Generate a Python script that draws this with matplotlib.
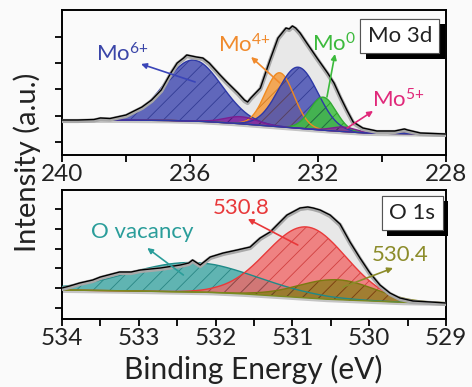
import numpy as np
import matplotlib
matplotlib.use("Agg")
import matplotlib.pyplot as plt
from matplotlib import patheffects as pe
from matplotlib.ticker import MultipleLocator, NullFormatter

plt.rcParams['font.family'] = ['Lato', 'DejaVu Sans']
plt.rcParams['mathtext.fontset'] = 'custom'
plt.rcParams['mathtext.rm'] = 'Lato'
plt.rcParams['mathtext.default'] = 'regular'
plt.rcParams['hatch.linewidth'] = 0.6

# ---------------- Mo 3d data ----------------
mo_E = [240.0, 239.5, 239.0, 238.8, 238.5, 238.0, 237.5, 237.2, 236.9, 236.6, 236.4,
        236.2, 236.1, 235.95, 235.8, 235.6, 235.4, 235.06, 234.85, 234.5, 234.3,
        234.2, 234.1, 233.8, 233.5, 233.25, 233.0, 232.9, 232.8, 232.7, 232.56,
        232.35, 232.03, 231.7, 231.5, 231.3, 231.1, 230.9, 230.6, 230.16, 229.6,
        229.3, 229.2, 228.8, 228.0]
mo_I = [35, 35, 35.5, 37, 36.5, 40, 48, 55, 65, 82, 92,
        97, 100, 99, 98, 97, 92, 80, 73, 62, 55,
        53, 57, 67, 95, 117, 127, 126, 129, 127, 122,
        112, 97, 82, 72, 58, 45, 33, 27, 24, 24,
        26, 25, 22, 21]
mo_bg_E = [240, 238, 236.5, 235.5, 234.5, 233.5, 232.5, 231.5, 230.5, 229.5, 228]
mo_bg_I = [35, 35, 34.5, 33.5, 31.5, 29, 26.5, 24, 22, 21.5, 21]

mo_names = ['Mo6+ 3d3/2', 'Mo4+', 'Mo6+ 3d5/2', 'Mo0', 'Mo5+ a', 'Mo5+ b']
mo_centers = [235.9, 233.2, 232.62, 231.84, 234.4, 231.2]
mo_heights = [61, 54, 61, 33, 7, 4.5]
mo_fwhm = [2.1, 1.05, 1.45, 0.95, 1.2, 0.9]
mo_fill = ['#4850b4', '#f59c3c', '#4850b4', '#3fc03f', '#8a2ca0', '#8a2ca0']
mo_edge = ['#2d38a6', '#f08a20', '#2d38a6', '#33aa33', '#7a1f90', '#7a1f90']
mo_hatch = ['#27308a', '#c86e10', '#27308a', '#1f8a1f', '#5a1070', '#5a1070']

# ---------------- O 1s data ----------------
o_E = [534.0, 533.9, 533.77, 533.6, 533.5, 533.25, 533.1, 532.98, 532.72, 532.46,
       532.35, 532.3, 532.2, 532.07, 531.9, 531.72, 531.55, 531.42, 531.29, 531.2,
       531.07, 530.9, 530.8, 530.73, 530.64, 530.51, 530.38, 530.25, 530.12, 529.99,
       529.86, 529.73, 529.6, 529.43, 529.2, 529.0]
o_I = [31, 33, 36, 39, 42, 47, 47, 49, 51, 54,
       56, 59, 54, 62, 66, 69, 72, 81, 87, 94,
       104, 111, 112, 111, 109, 104, 95, 77, 61, 46,
       34, 26, 21, 18, 17, 16]
o_bg_E = [534, 533, 532, 531.5, 531, 530.5, 530, 529.5, 529]
o_bg_I = [29, 28, 26.5, 24.5, 22, 19.5, 18, 16.5, 16]

o_names = ['O vacancy', '530.8', '530.4']
o_centers = [532.3, 530.82, 530.42]
o_heights = [29.5, 71, 20]
o_fwhm = [1.95, 1.22, 1.15]
o_fill = ['#3aa6a3', '#f26666', '#8c7d1c']
o_edge = ['#1f8a88', '#e83a3a', '#7a7a10']
o_hatch = ['#1c7a78', '#c83030', '#5a5008']


def gauss(x, c, h, w):
    return h * np.exp(-4 * np.log(2) * (x - c) ** 2 / w ** 2)


fig = plt.figure(figsize=(4.72, 3.87), dpi=100, facecolor='#fafafa')
W, H = 472, 387
ax1 = fig.add_axes([62 / W, 1 - 155 / H, 384 / W, 145 / H])
ax2 = fig.add_axes([62 / W, 1 - 319 / H, 384 / W, 129 / H])


def draw_panel(ax, E, I, bgE, bgI, centers, heights, fwhm, fills, edges, hatches, bgcolor, lo, hi, alpha):
    x = np.linspace(lo, hi, 600)
    bgEr = np.array(bgE)[::-1]
    bgIr = np.array(bgI)[::-1]
    bgx = np.interp(x, bgEr, bgIr)
    Ea = np.array(E)
    Ia = np.array(I)
    bge = np.interp(Ea, bgEr, bgIr)
    ax.fill_between(Ea, bge, Ia, color='#e8e8e8', zorder=1, lw=0)
    for c, h, w, fc, ec, hc in zip(centers, heights, fwhm, fills, edges, hatches):
        y = bgx + gauss(x, c, h, w)
        ax.fill_between(x, bgx, y, facecolor=fc, alpha=alpha, lw=0, zorder=2)
        ax.fill_between(x, bgx, y, facecolor='none', edgecolor=hc, hatch='//', lw=0, zorder=3, alpha=0.8)
        ax.plot(x, y, color=ec, lw=1.0, zorder=4)
    ax.plot(x, bgx - 1.2, color='#c4c4c4', lw=2.5, zorder=1.5)
    ax.plot(x, bgx, color=bgcolor, lw=1.0, zorder=4)
    ax.plot(Ea, Ia - 1.0, color='#a8a8a8', lw=3.0, zorder=5, solid_joinstyle='round')
    ax.plot(Ea, Ia, color='black', lw=1.0, zorder=6)


draw_panel(ax1, mo_E, mo_I, mo_bg_E, mo_bg_I, mo_centers, mo_heights, mo_fwhm,
           mo_fill, mo_edge, mo_hatch, '#2d38a6', 228, 240, 0.85)
draw_panel(ax2, o_E, o_I, o_bg_E, o_bg_I, o_centers, o_heights, o_fwhm,
           o_fill, o_edge, o_hatch, '#7a8a20', 529, 534, 0.78)

ax1.set_xlim(240, 228)
ax1.set_ylim(0, 145)
ax1.xaxis.set_major_locator(MultipleLocator(4))
ax1.xaxis.set_minor_locator(MultipleLocator(2))
ax1.set_yticks([13, 39.3, 65.6, 92, 118.3])

ax2.set_xlim(534, 529)
ax2.set_ylim(0, 129)
ax2.xaxis.set_major_locator(MultipleLocator(1))
ax2.xaxis.set_minor_locator(MultipleLocator(0.5))
ax2.set_yticks([11, 30.8, 50.6, 70.4, 90.2, 110])

for ax in (ax1, ax2):
    ax.set_facecolor('#fafafa')
    for s in ax.spines.values():
        s.set_linewidth(1.4)
    ax.tick_params(axis='both', which='both', direction='out', length=5, width=1.3,
                   labelsize=17.5, pad=1.5, colors='black', labelcolor='#222222')
    ax.tick_params(axis='y', labelleft=False)
    ax.xaxis.set_minor_formatter(NullFormatter())
    ax.xaxis.set_major_formatter(matplotlib.ticker.FuncFormatter(lambda v, p: f'{v:g}'))

fs = 16
arrow_kw = dict(arrowstyle='-|>', lw=1.2, mutation_scale=8, shrinkA=0, shrinkB=0)

# Mo labels
ax1.text(238.1, 101, r'Mo$^{6{+}}$', color='#3a45a8', fontsize=fs, ha='center', va='center', zorder=8)
ax1.annotate('', xy=(237.53, 91), xytext=(235.84, 73), arrowprops=dict(color='#3a45b8', **arrow_kw), zorder=8)
ax1.text(234.3, 110, r'Mo$^{4{+}}$', color='#f08a2c', fontsize=fs, ha='center', va='center', zorder=8)
ax1.annotate('', xy=(234.09, 98), xytext=(233.19, 72), arrowprops=dict(color='#f08a2c', **arrow_kw), zorder=8)
ax1.text(231.5, 111, r'Mo$^{0}$', color='#3cba3c', fontsize=fs, ha='center', va='center', zorder=8)
ax1.annotate('', xy=(231.47, 101), xytext=(231.72, 58), arrowprops=dict(color='#3cba3c', **arrow_kw), zorder=8)
ax1.text(229.5, 55, r'Mo$^{5{+}}$', color='#e0287a', fontsize=fs, ha='center', va='center', zorder=8)
ax1.annotate('', xy=(230.28, 44), xytext=(231.09, 27), arrowprops=dict(color='#e0287a', **arrow_kw), zorder=8)

# O labels
ax2.text(532.96, 87, 'O vacancy', color='#2a9d9a', fontsize=fs, ha='center', va='center', zorder=8)
ax2.annotate('', xy=(532.89, 71), xytext=(532.42, 44), arrowprops=dict(color='#2a9d9a', **arrow_kw), zorder=8)
ax2.text(531.66, 111, '530.8', color='#e8383a', fontsize=fs, ha='center', va='center', zorder=8)
ax2.annotate('', xy=(531.58, 100), xytext=(530.93, 74), arrowprops=dict(color='#e8383a', **arrow_kw), zorder=8)
ax2.text(529.6, 64, '530.4', color='#8c8c2a', fontsize=fs, ha='center', va='center', zorder=8)
ax2.annotate('', xy=(529.69, 51), xytext=(530.34, 32), arrowprops=dict(color='#8c8c2a', **arrow_kw), zorder=8)

# boxed element labels with drop shadow
for ax, xy, label in ((ax1, (229.44, 119), 'Mo 3d'), (ax2, (529.44, 106), 'O 1s')):
    t = ax.text(xy[0], xy[1], label, fontsize=16, color='#222222', ha='center', va='center', zorder=9,
                bbox=dict(boxstyle='square,pad=0.33', fc='white', ec='#555555', lw=0.8))
    t.get_bbox_patch().set_path_effects([pe.withSimplePatchShadow(offset=(4, -4), shadow_rgbFace='black', alpha=1.0),
                                         pe.Normal()])

fig.text(27 / W, 1 - 162 / H, 'Intensity (a.u.)', rotation=90, fontsize=21, ha='center', va='center', color='#222222')
fig.text(253 / W, 1 - 369 / H, 'Binding Energy (eV)', fontsize=21.5, ha='center', va='center', color='#222222')

fig.savefig('out.png', dpi=100, facecolor=fig.get_facecolor())
